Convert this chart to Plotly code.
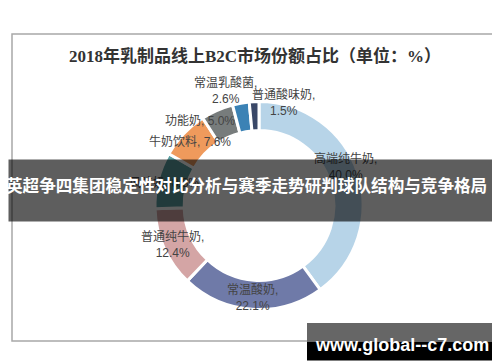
import math
import plotly.graph_objects as go

# ---------------- data ----------------
labels = ["高端纯牛奶", "常温酸奶", "普通纯牛奶", "风味奶", "牛奶饮料", "功能奶", "常温乳酸菌", "普通酸味奶"]
values = [40.0, 22.1, 12.4, 8.8, 7.6, 5.0, 2.6, 1.5]
title_text = "2018年乳制品线上B2C市场份额占比（单位：%）"
banner_text = "英超争四集团稳定性对比分析与赛季走势研判球队结构与竞争格局"
watermark_text = "www.global--c7.com"

# ---------------- styles ----------------
colors = ["#b7d4e8", "#6f7aa8", "#d4a5a5", "#5a9ea0", "#ef9a5c", "#777c7c", "#3b82b5", "#3a4868"]
label_two_lines = [True, True, True, False, False, False, True, True]
label_dist = [95, 92, 95, 98, 94, 103, 120, 106]      # px from centre
label_rot = [-6, 0, 0, -0.7, -0.7, -11.4, -6.3, 16.3]  # deg offset from slice middle

W, H = 500, 362
cx, cy, R = 251, 197.5, 104


def px(x):
    return x / W


def py(y):
    return 1 - y / H


fig = go.Figure(go.Pie(
    labels=labels,
    values=values,
    hole=0.72,
    sort=False,
    direction="clockwise",
    rotation=0,
    textinfo="none",
    marker=dict(colors=colors, line=dict(color="white", width=3)),
    domain=dict(x=[px(cx - R), px(cx + R)], y=[py(cy + R), py(cy - R)]),
    showlegend=False,
))

annotations = []
total = sum(values)
cum = 0.0
for lab, v, two, d, rot in zip(labels, values, label_two_lines, label_dist, label_rot):
    ang = math.radians(360 * (cum + v / 2) / total + rot)
    cum += v
    x = cx + d * math.sin(ang)
    y = cy - d * math.cos(ang)
    txt = f"{lab},<br>{v:.1f}%" if two else f"{lab}, {v:.1f}%"
    annotations.append(dict(
        x=px(x), y=py(y), xref="paper", yref="paper", text=txt, showarrow=False,
        xanchor="center", yanchor="middle", align="center",
        font=dict(family="Liberation Sans, Noto Sans CJK SC", size=12, color="#444444"),
    ))

# title
annotations.append(dict(
    x=px(247), y=py(48), xref="paper", yref="paper", text=f"<b>{title_text}</b>",
    showarrow=False, xanchor="center", yanchor="middle",
    font=dict(family="Liberation Serif, Noto Sans CJK SC", size=17, color="#333333"),
))

# banner box over chart (semi-transparent)
annotations.append(dict(
    x=0, y=py(151), xref="paper", yref="paper", text=" ", showarrow=False,
    xanchor="left", yanchor="top", width=W, height=61, borderpad=0,
    bgcolor="rgba(0,0,0,0.63)", font=dict(size=10),
))
annotations.append(dict(
    x=px(-3), y=py(177), xref="paper", yref="paper", text=f"<b>{banner_text}</b>",
    showarrow=False, xanchor="left", yanchor="middle", borderpad=0,
    font=dict(family="Noto Sans CJK SC", size=16.6, color="white"),
))
# watermark text
annotations.append(dict(
    x=px(394), y=py(337), xref="paper", yref="paper", text=f"<b>{watermark_text}</b>",
    showarrow=False, xanchor="center", yanchor="middle",
    font=dict(family="Liberation Sans", size=18, color="white"),
))

shapes = [
    dict(type="rect", xref="paper", yref="paper", x0=px(4), x1=px(495), y0=py(333), y1=py(26),
         line=dict(color="#a8a8a8", width=1.5), fillcolor="rgba(0,0,0,0)", layer="below"),
    dict(type="rect", xref="paper", yref="paper", x0=px(299), x1=px(491), y0=py(334), y1=py(315),
         line=dict(width=0), fillcolor="#666666"),
    dict(type="rect", xref="paper", yref="paper", x0=px(299), x1=px(491), y0=py(352.5), y1=py(334),
         line=dict(width=0), fillcolor="#000000"),
]

fig.update_layout(
    width=W, height=H,
    margin=dict(l=0, r=0, t=0, b=0),
    paper_bgcolor="white", plot_bgcolor="white",
    annotations=annotations,
    shapes=shapes,
)

fig.write_html("out.html", config={"displayModeBar": False})
